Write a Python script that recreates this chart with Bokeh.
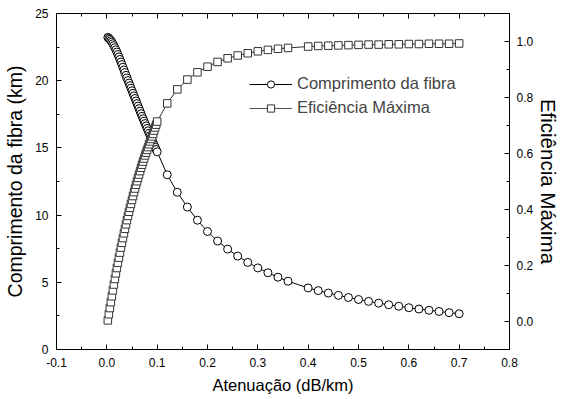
from bokeh.plotting import figure
from bokeh.models import (Range1d, LinearAxis, FixedTicker, Legend, LegendItem,
                          ColumnDataSource)
from bokeh.embed import file_html
from bokeh.resources import INLINE

# ---- data ----
x_dense = [0.002, 0.004, 0.006, 0.008, 0.010, 0.012, 0.014, 0.016, 0.018, 0.020,
           0.022, 0.024, 0.026, 0.028, 0.030, 0.032, 0.034, 0.036, 0.038, 0.040,
           0.042, 0.044, 0.046, 0.048, 0.050, 0.052, 0.054, 0.056, 0.058, 0.060,
           0.062, 0.064, 0.066, 0.068, 0.070, 0.072, 0.074, 0.076, 0.078, 0.080,
           0.082, 0.084, 0.086, 0.088, 0.090, 0.092, 0.094, 0.096, 0.098, 0.100]
comp_dense = [23.22, 23.16, 23.08, 22.98, 22.87, 22.75, 22.61, 22.46, 22.30, 22.13,
              21.95, 21.77, 21.58, 21.39, 21.20, 21.00, 20.80, 20.60, 20.40, 20.20,
              20.01, 19.82, 19.63, 19.44, 19.25, 19.06, 18.87, 18.68, 18.49, 18.30,
              18.11, 17.92, 17.73, 17.54, 17.35, 17.17, 16.99, 16.81, 16.63, 16.45,
              16.27, 16.09, 15.91, 15.73, 15.56, 15.39, 15.22, 15.05, 14.88, 14.71]
eff_dense = [0.004, 0.026, 0.048, 0.069, 0.090, 0.111, 0.132, 0.152, 0.172, 0.191,
             0.210, 0.228, 0.246, 0.264, 0.281, 0.298, 0.315, 0.331, 0.347, 0.362,
             0.377, 0.392, 0.406, 0.420, 0.434, 0.448, 0.462, 0.475, 0.488, 0.501,
             0.513, 0.525, 0.537, 0.549, 0.560, 0.571, 0.582, 0.593, 0.603, 0.613,
             0.623, 0.633, 0.643, 0.652, 0.661, 0.670, 0.682, 0.693, 0.703, 0.714]
x_sparse = [0.12, 0.14, 0.16, 0.18, 0.20, 0.22, 0.24, 0.26, 0.28, 0.30, 0.32, 0.34, 0.36,
            0.40, 0.42, 0.44, 0.46, 0.48, 0.50, 0.52, 0.54, 0.56, 0.58, 0.60, 0.62,
            0.64, 0.66, 0.68, 0.70]
comp_sparse = [13.0, 11.7, 10.6, 9.62, 8.78, 8.07, 7.47, 6.95, 6.48, 6.07, 5.71, 5.38, 5.08,
               4.58, 4.38, 4.20, 4.03, 3.87, 3.72, 3.58, 3.45, 3.33, 3.22, 3.11, 3.01,
               2.92, 2.83, 2.74, 2.66]
eff_sparse = [0.779, 0.829, 0.864, 0.890, 0.910, 0.927, 0.940, 0.950, 0.958, 0.965, 0.970,
              0.974, 0.977, 0.982, 0.984, 0.985, 0.986, 0.987, 0.988, 0.989, 0.989,
              0.990, 0.990, 0.991, 0.991, 0.992, 0.992, 0.992, 0.993]

x_ticks = [-0.1, 0.0, 0.1, 0.2, 0.3, 0.4, 0.5, 0.6, 0.7, 0.8]
x_tick_labels = ["-0.1", "0.0", "0.1", "0.2", "0.3", "0.4", "0.5", "0.6", "0.7", "0.8"]
x_minor = [-0.05, 0.05, 0.15, 0.25, 0.35, 0.45, 0.55, 0.65, 0.75]
yl_ticks = [0, 5, 10, 15, 20, 25]
yl_tick_labels = ["0", "5", "10", "15", "20", "25"]
yl_minor = [2.5, 7.5, 12.5, 17.5, 22.5]
yr_ticks = [0.0, 0.2, 0.4, 0.6, 0.8, 1.0]
yr_tick_labels = ["0.0", "0.2", "0.4", "0.6", "0.8", "1.0"]
yr_minor = [-0.1, 0.1, 0.3, 0.5, 0.7, 0.9, 1.1]

label_comp = "Comprimento da fibra"
label_eff = "Eficiência Máxima"

FONT = "Liberation Sans"

src = ColumnDataSource(dict(x=x_dense + x_sparse, comp=comp_dense + comp_sparse,
                            eff=eff_dense + eff_sparse))
# one-row source for legend-only glyphs (not visible in the plot area)
nan = float("nan")
leg_src = ColumnDataSource(dict(x=[nan], comp=[nan], eff=[nan]))

p = figure(width=563, height=399, x_range=Range1d(-0.1, 0.8), y_range=Range1d(0, 25),
           output_backend="svg", toolbar_location=None,
           min_border_left=56, min_border_right=49, min_border_top=13, min_border_bottom=50)
p.extra_y_ranges = {"eff": Range1d(-0.1, 1.1)}
p.xgrid.visible = False
p.ygrid.visible = False
p.outline_line_color = "black"
p.background_fill_color = "white"
p.border_fill_color = "white"

def style_axis(ax, ticks, minor, labels, size="12px"):
    ax.ticker = FixedTicker(ticks=ticks, minor_ticks=minor)
    if labels is not None:
        ax.major_label_overrides = {t: l for t, l in zip(ticks, labels)}
    ax.major_tick_in = 5
    ax.major_tick_out = 0
    ax.minor_tick_in = 3
    ax.minor_tick_out = 0
    ax.axis_line_color = "black"
    ax.major_tick_line_color = "black"
    ax.minor_tick_line_color = "black"
    ax.major_label_text_font = FONT
    ax.major_label_text_font_size = size
    ax.major_label_text_color = "black"
    ax.axis_label_text_font = FONT
    ax.axis_label_text_font_style = "normal"
    ax.axis_label_text_color = "black"

xa = p.xaxis[0]
style_axis(xa, x_ticks, x_minor, x_tick_labels)
xa.axis_label = "Atenuação (dB/km)"
xa.axis_label_text_font_size = "16.5px"
xa.major_label_standoff = 8
xa.axis_label_standoff = 6

ya = p.yaxis[0]
style_axis(ya, yl_ticks, yl_minor, yl_tick_labels)
ya.axis_label = "Comprimento da fibra (km)"
ya.axis_label_text_font_size = "19.5px"
ya.major_label_standoff = 8
ya.axis_label_standoff = 6

ra = LinearAxis(y_range_name="eff")
style_axis(ra, yr_ticks, yr_minor, yr_tick_labels)
ra.axis_label = "Eficiência Máxima"
ra.axis_label_text_font_size = "20.5px"
ra.major_label_standoff = 7
ra.axis_label_standoff = 1
p.add_layout(ra, "right")

ta = LinearAxis()
style_axis(ta, x_ticks, x_minor, None, size="0px")
ta.major_label_standoff = 0
ta.major_label_text_alpha = 0
p.add_layout(ta, "above")

p.line("x", "comp", source=src, line_color="black", line_width=1)
p.scatter("x", "comp", source=src, marker="circle", size=8,
          fill_color="white", line_color="black", line_width=1)
p.line("x", "eff", source=src, y_range_name="eff", line_color="#333333", line_width=1)
p.scatter("x", "eff", source=src, y_range_name="eff", marker="square", size=7.5,
          fill_color="white", line_color="#333333", line_width=1)

# legend-only renderers (smaller markers, as in the reference legend)
lg1 = p.line("x", "comp", source=leg_src, line_color="black", line_width=1)
lm1 = p.scatter("x", "comp", source=leg_src, marker="circle", size=6,
                fill_color="white", line_color="black", line_width=1)
lg2 = p.line("x", "eff", source=leg_src, y_range_name="eff", line_color="#555555", line_width=1.2)
lm2 = p.scatter("x", "eff", source=leg_src, y_range_name="eff", marker="square", size=6,
                fill_color="white", line_color="#333333", line_width=1)

legend = Legend(items=[LegendItem(label=label_comp, renderers=[lg1, lm1]),
                       LegendItem(label=label_eff, renderers=[lg2, lm2])],
                location=(193, 232), padding=0, margin=0, spacing=5,
                glyph_width=43, glyph_height=18, label_height=18, label_standoff=5,
                label_text_font=FONT, label_text_font_size="16.5px",
                border_line_color=None, background_fill_alpha=0)
p.add_layout(legend, "center")

open("out.html", "w").write(file_html(p, INLINE))
